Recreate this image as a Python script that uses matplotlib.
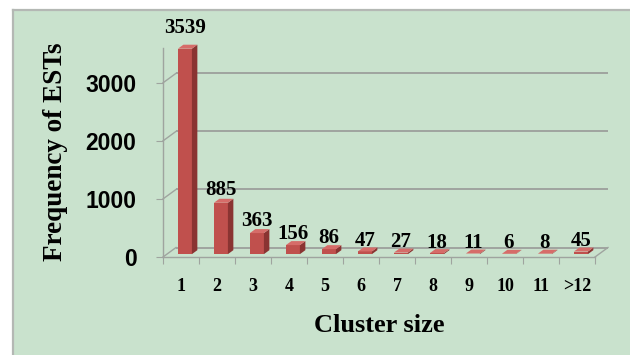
import matplotlib
matplotlib.use("Agg")
import matplotlib.pyplot as plt
from matplotlib.patches import Polygon, Rectangle
from matplotlib.lines import Line2D

# ---- data -------------------------------------------------------------
categories = ["1", "2", "3", "4", "5", "6", "7", "8", "9", "10", "11", ">12"]
frequencies = [3539, 885, 363, 156, 86, 47, 27, 18, 11, 6, 8, 45]
y_ticks = [0, 1000, 2000, 3000]

# ---- figure geometry (pixels) ----------------------------------------
W, H, DPI = 630, 355, 100
AX_L, AX_R = 163, 595          # front plane, x extent
AX_B, AX_T = 257, 48           # front plane, y extent (from top)
Y_MAX = 3600

SERIF = ["Liberation Serif", "DejaVu Serif"]
SANS = ["Liberation Sans", "DejaVu Sans"]

PANEL = "#c9e2cd"
GRID = "#9fa49f"
FRONT = "#c0504d"
SIDE = "#8a3432"
TOP = "#d66c69"

fig = plt.figure(figsize=(W / DPI, H / DPI), dpi=DPI)
fig.patch.set_facecolor("white")

# green chart area with a grey frame on its top and left edges
fig.add_artist(Rectangle((13 / W, 0), 1 - 13 / W, (H - 10) / H,
                         transform=fig.transFigure, facecolor=PANEL,
                         edgecolor="none", zorder=0))
fig.add_artist(Line2D([13 / W, 13 / W], [0, (H - 10) / H], color="#b4b8b4",
                      lw=1.6, transform=fig.transFigure, zorder=1))
fig.add_artist(Line2D([13 / W, 1], [(H - 10) / H, (H - 10) / H], color="#b4b8b4",
                      lw=1.6, transform=fig.transFigure, zorder=1))

ax = fig.add_axes([AX_L / W, (H - AX_B) / H, (AX_R - AX_L) / W, (AX_B - AX_T) / H])
ax.set_facecolor("none")
n = len(categories)
ax.set_xlim(0, n)
ax.set_ylim(0, Y_MAX)

# pixel -> data conversion
sx = n / (AX_R - AX_L)
sy = Y_MAX / (AX_B - AX_T)

# depth of the floor / back wall
DX, DY = 13 * sx, 9.5 * sy

# back wall gridlines and the diagonals joining them to the front axis
for v in y_ticks:
    ax.plot([DX, n + DX], [v + DY, v + DY], color=GRID, lw=1.4,
            clip_on=False, zorder=1, solid_capstyle="butt")
    ax.plot([0, DX], [v, v + DY], color=GRID, lw=1.0, clip_on=False, zorder=1)
# right edge of the floor
ax.plot([n, n + DX], [0, DY], color=GRID, lw=1.0, clip_on=False, zorder=1)

# spines / ticks
for side in ("top", "right"):
    ax.spines[side].set_visible(False)
for side in ("left", "bottom"):
    ax.spines[side].set_color(GRID)
    ax.spines[side].set_linewidth(1.0)

ax.set_yticks(y_ticks)
ax.set_yticklabels([str(t) for t in y_ticks], fontfamily=SANS,
                   fontweight="bold", fontsize=16.5)
ax.tick_params(axis="y", length=5, color=GRID, pad=14)

ax.set_xticks(range(n + 1))
ax.set_xticklabels([])
ax.set_xticks([i + 0.5 for i in range(n)], minor=True)
ax.set_xticklabels(categories, minor=True, fontfamily=SERIF,
                   fontweight="bold", fontsize=13)
ax.tick_params(axis="x", which="major", length=5, color=GRID, direction="out")
ax.tick_params(axis="x", which="minor", length=0, pad=15)

# 3-D style bars
F0X, F0Y = 0.3 * DX, 0.3 * DY      # front face sits slightly back in depth
BDX, BDY = 0.42 * DX, 0.42 * DY    # bar depth
w = 14 * sx
for i, v in enumerate(frequencies):
    xl = i + 0.5 - w / 2 + F0X
    xr = xl + w
    top = F0Y + v
    ax.bar(xl + w / 2, v, width=w, bottom=F0Y, color=FRONT, zorder=3,
           linewidth=0, clip_on=False)
    ax.add_patch(Polygon([(xr, F0Y), (xr, top), (xr + BDX, top + BDY),
                          (xr + BDX, F0Y + BDY)], closed=True,
                         facecolor=SIDE, edgecolor="none", zorder=3,
                         clip_on=False))
    ax.add_patch(Polygon([(xl, top), (xr, top), (xr + BDX, top + BDY),
                          (xl + BDX, top + BDY)], closed=True,
                         facecolor=TOP, edgecolor="none", zorder=3,
                         clip_on=False))
    # value label; the gap above the bar grows a little with bar height
    gap_px = 1.5 + 0.003 * v
    ax.text(i + 0.5 + 4 * sx, top + BDY + gap_px * sy, f"{v}", ha="center",
            va="baseline", fontfamily=SERIF, fontweight="bold", fontsize=15,
            zorder=4, clip_on=False)

# axis titles
fig.text(56 / W, 1 - 152 / H, "Frequency of ESTs", rotation=90, ha="center",
         va="center", fontfamily=SERIF, fontweight="bold", fontsize=19.5)
fig.text(379 / W, 1 - 332 / H, "Cluster size", ha="center", va="baseline",
         fontfamily=SERIF, fontweight="bold", fontsize=19)

fig.savefig("out.png", dpi=DPI, facecolor=fig.get_facecolor())
